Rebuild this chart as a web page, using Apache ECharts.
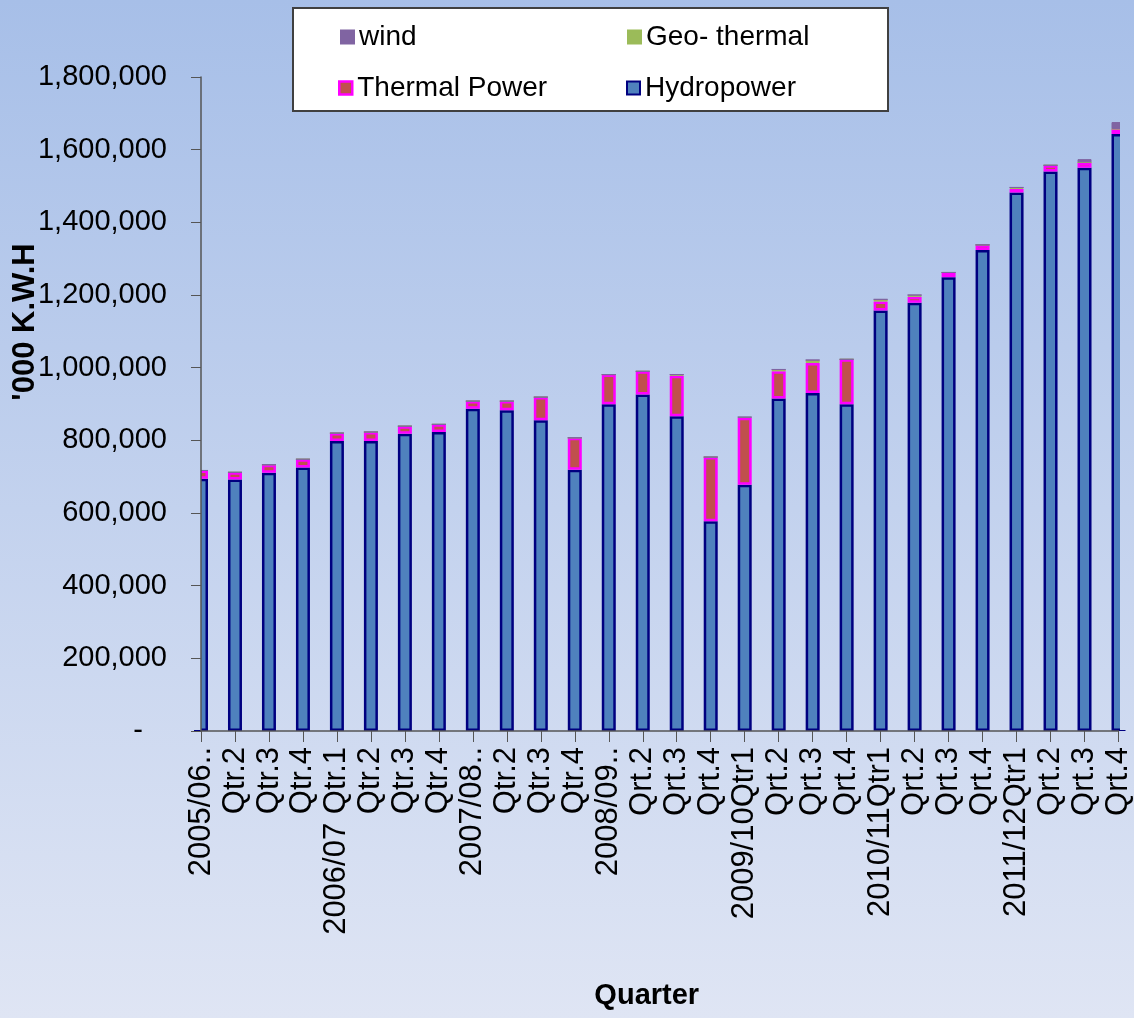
<!DOCTYPE html>
<html>
<head>
<meta charset="utf-8">
<title>Quarterly power generation</title>
<script src="https://cdn.jsdelivr.net/npm/echarts@6/dist/echarts.min.js"></script>
<style>
    html, body { margin: 0; padding: 0; }
    #chart { width: 1134px; height: 1018px; }
</style>
</head>
<body>
<div id="chart"></div>
<script>
// quarters on the x axis
var quarters = ['2005/06..', 'Qtr.2', 'Qtr.3', 'Qtr.4', '2006/07 Qtr.1', 'Qtr.2', 'Qtr.3', 'Qtr.4',
    '2007/08..', 'Qtr.2', 'Qtr.3', 'Qtr.4', '2008/09..', 'Qrt.2', 'Qrt.3', 'Qrt.4',
    '2009/10Qtr1', 'Qrt.2', 'Qrt.3', 'Qrt.4', '2010/11Qtr1', 'Qrt.2', 'Qrt.3', 'Qrt.4',
    '2011/12Qtr1', 'Qrt.2', 'Qrt.3', 'Qrt.4'];

// '000 K.W.H
var hydropower = [694000, 692000, 711000, 725000, 798000, 798000, 818000, 823000,
    887000, 883000, 855000, 719000, 899000, 926000, 866000, 577000,
    678000, 915000, 930000, 899000, 1157000, 1179000, 1249000, 1324000,
    1482000, 1540000, 1550000, 1643000];
var thermalPower = [23000, 20000, 22000, 23000, 22000, 25000, 21000, 21000,
    21000, 25000, 64000, 88000, 82000, 64000, 112000, 177000,
    184000, 75000, 83000, 124000, 25000, 16000, 13000, 14000,
    10000, 17000, 15000, 14000];
var geoThermal = [0, 0, 0, 0, 0, 0, 0, 0,
    0, 0, 0, 0, 0, 0, 3000, 0,
    2000, 5000, 8000, 0, 6000, 5000, 0, 0,
    4000, 0, 0, 0];
var wind = [0, 0, 0, 0, 0, 0, 0, 0,
    0, 0, 0, 0, 0, 0, 0, 0,
    0, 0, 0, 0, 0, 0, 0, 0,
    0, 0, 9000, 19000];

var yTicks = { min: 0, max: 1800000, interval: 200000 };

var FONT = "'Liberation Sans', Arial, sans-serif";

// same gradient everywhere, in page coordinates, so the cover strips blend in
var bgGradient = {
    type: 'linear', x: 0, y: 0, x2: 0, y2: 1018, global: true,
    colorStops: [
        { offset: 0, color: '#a7bfe8' },
        { offset: 1, color: '#dfe5f4' }
    ]
};

var myChart = echarts.init(document.getElementById('chart'));

function legendBox(name, left, top, style) {
    return {
        data: [name],
        left: left,
        top: top,
        padding: 0,
        icon: 'rect',
        itemWidth: 13,
        itemHeight: 13,
        selectedMode: false,
        itemStyle: style,
        textStyle: { fontFamily: FONT, fontSize: 28, color: '#000', lineHeight: 30 }
    };
}

myChart.setOption({
    backgroundColor: bgGradient,
    animation: false,
    graphic: [
        {
            type: 'rect',
            shape: { x: 293, y: 8, width: 595, height: 103 },
            style: { fill: '#fff', stroke: '#404040', lineWidth: 2 },
            z: 0
        },
        // the first and last bars are cut in half by the plot edges
        {
            type: 'rect',
            shape: { x: 170, y: 120, width: 31, height: 610 },
            style: { fill: bgGradient },
            z: 5
        },
        {
            type: 'rect',
            shape: { x: 1120, y: 60, width: 14, height: 670 },
            style: { fill: bgGradient },
            z: 5
        },
        {
            // y axis title sits above the middle of the axis in the original
            type: 'text',
            x: 25,
            y: 322,
            rotation: Math.PI / 2,
            style: {
                text: "'000 K.W.H",
                fontFamily: FONT,
                fontSize: 31,
                fontWeight: 'bold',
                fill: '#000',
                align: 'center',
                verticalAlign: 'middle'
            },
            z: 6
        }
    ],
    legend: [
        legendBox('wind', 340, 22, { color: '#8064A2' }),
        legendBox('Geo- thermal', 627, 22, { color: '#9BBB59' }),
        legendBox('Thermal Power', 338, 73, { color: '#C0504D', borderColor: '#FF00FF', borderWidth: 2.5 }),
        legendBox('Hydropower', 626, 73, { color: '#4F81BD', borderColor: '#000080', borderWidth: 2 })
    ],
    grid: {
        left: 201,
        right: 14,
        top: 77,
        bottom: 287,
        containLabel: false
    },
    xAxis: {
        type: 'category',
        z: 10,
        boundaryGap: false,
        data: quarters,
        name: 'Quarter',
        nameLocation: 'middle',
        nameGap: 250,
        nameTextStyle: { fontFamily: FONT, fontSize: 29, fontWeight: 'bold', color: '#000', padding: [0, 26, 0, 0] },
        axisLine: { lineStyle: { color: '#555', width: 1.5 } },
        axisTick: { length: 11, lineStyle: { color: '#555' } },
        axisLabel: {
            rotate: 90,
            interval: 0,
            margin: 16,
            fontFamily: FONT,
            fontSize: 31,
            color: '#000'
        },
        splitLine: { show: false }
    },
    yAxis: {
        type: 'value',
        z: 10,
        min: yTicks.min,
        max: yTicks.max,
        interval: yTicks.interval,
        axisLine: { show: true, lineStyle: { color: '#555', width: 1.5 } },
        axisTick: { show: true, length: 10, lineStyle: { color: '#555' } },
        axisLabel: {
            margin: 34,
            fontFamily: FONT,
            fontSize: 29,
            color: '#000',
            formatter: function (v) {
                return v === 0 ? '-   ' : v.toLocaleString('en-US');
            }
        },
        splitLine: { show: false }
    },
    series: [
        {
            name: 'Hydropower',
            type: 'bar',
            stack: 'power',
            barWidth: 14,
            data: hydropower,
            itemStyle: { color: '#4F81BD', borderColor: '#000080', borderWidth: 2.5 }
        },
        {
            name: 'Thermal Power',
            type: 'bar',
            stack: 'power',
            data: thermalPower,
            itemStyle: { color: '#C0504D', borderColor: '#FF00FF', borderWidth: 2.5 }
        },
        {
            name: 'Geo- thermal',
            type: 'bar',
            stack: 'power',
            data: geoThermal,
            itemStyle: { color: '#9BBB59', borderColor: '#9BBB59', borderWidth: 1 }
        },
        {
            name: 'wind',
            type: 'bar',
            stack: 'power',
            data: wind,
            itemStyle: { color: '#8064A2', borderColor: '#8064A2', borderWidth: 1 }
        }
    ]
});
</script>
</body>
</html>
